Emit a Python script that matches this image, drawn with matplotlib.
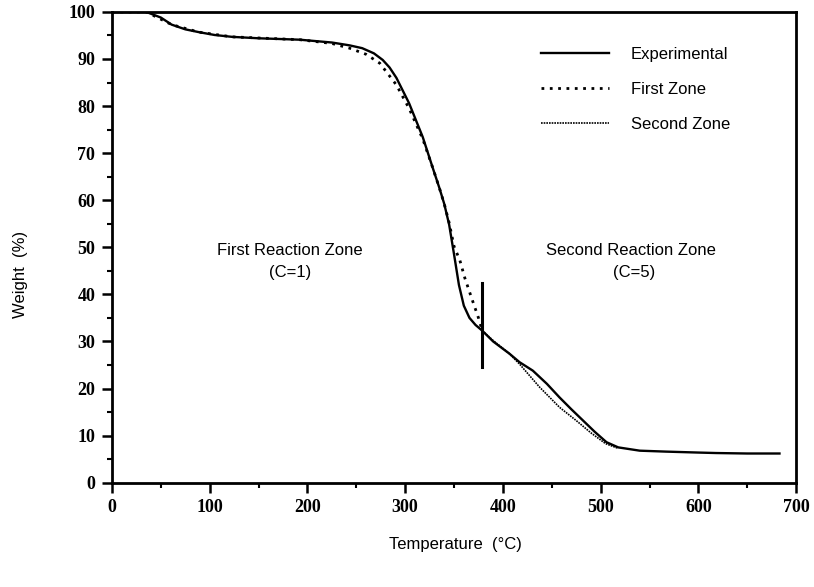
import matplotlib
matplotlib.use("Agg")
import matplotlib.pyplot as plt
import numpy as np

# experimental TGA curve
T_exp = [0, 20, 35, 50, 61, 75, 89, 105, 123, 150, 192, 225, 243, 256, 268, 277, 284, 291,
         304, 318, 328, 335, 340, 345, 350, 355, 360, 365.8, 372, 378.8, 390, 406.7, 417, 430.6,
         445, 458, 470, 482, 494, 506, 518, 540, 567, 600, 618, 650, 683]
W_exp = [100, 100, 100, 98.8, 97.3, 96.3, 95.7, 95.1, 94.7, 94.4, 94.1, 93.5, 92.9, 92.3, 91.2,
         89.8, 88.2, 86, 80.6, 73.4, 67, 62.6, 59.2, 54.8, 48.5, 42, 37.6, 35, 33.5, 32.3, 30.0, 27.4,
         25.6, 23.8, 21.0, 18.1, 15.6, 13.2, 10.8, 8.6, 7.5, 6.8, 6.6, 6.4, 6.3, 6.2, 6.2]

# first zone model (C=1)
T_z1 = [0, 35, 61, 89, 123, 192, 225, 243, 260, 274, 291, 304, 318, 328, 335, 340, 345, 350,
        356, 361, 368, 375, 378.8]
W_z1 = [100, 100, 97.3, 95.7, 94.7, 94.1, 93.3, 92.3, 91.0, 89.1, 84.5, 79.5, 73.0, 67, 62.6,
        59.2, 55.2, 50.2, 47.2, 43.5, 39.2, 35.0, 32.3]

# second zone model (C=5)
T_z2 = [378.8, 390, 406.7, 417, 437.5, 458, 475, 490, 505, 518]
W_z2 = [32.3, 30.2, 27.4, 25.2, 20.3, 16.0, 13.2, 10.6, 8.3, 7.3]

T_split = 379
W_split = [24.5, 42.4]

fig = plt.figure(figsize=(8.14, 5.87), dpi=100)
ax = fig.add_axes([0.1376, 0.1777, 0.8404, 0.802])

ax.plot(T_exp, W_exp, color="black", lw=1.7, label="Experimental")
ax.plot(T_z1, W_z1, color="black", lw=2.0, ls=(0, (1, 2)), label="First Zone")
ax.plot(T_z2, W_z2, color="black", lw=1.2, ls=(0, (1, 0.6)), label="Second Zone")
ax.plot([T_split, T_split], W_split, color="black", lw=2.2)

ax.set_xlim(0, 700)
ax.set_ylim(0, 100)
ax.set_xticks(np.arange(0, 701, 100))
ax.set_xticks(np.arange(50, 700, 100), minor=True)
ax.set_yticks(np.arange(0, 101, 10))
ax.set_yticks(np.arange(5, 100, 10), minor=True)

for s in ax.spines.values():
    s.set_linewidth(2.0)

ax.tick_params(which="major", direction="out", length=7, width=1.8, pad=5)
ax.tick_params(which="minor", direction="out", length=3.5, width=1.5)
tickfont = dict(family="Liberation Serif", weight="bold", size=13)
for lab in ax.get_xticklabels() + ax.get_yticklabels():
    lab.set_fontproperties(matplotlib.font_manager.FontProperties(**tickfont))

sans = "Liberation Sans"
fs = 12
fig.text(0.559, 0.073, "Temperature  (°C)", family=sans, fontsize=fs, ha="center", va="center")
fig.text(0.025, 0.532, "Weight  (%)", family=sans, fontsize=fs, ha="center", va="center",
         rotation=90)

ax.text(182, 49.4, "First Reaction Zone", family=sans, fontsize=fs, ha="center", va="center")
ax.text(182, 44.6, "(C=1)", family=sans, fontsize=fs, ha="center", va="center")
ax.text(531, 49.4, "Second Reaction Zone", family=sans, fontsize=fs, ha="center", va="center")
ax.text(534, 44.6, "(C=5)", family=sans, fontsize=fs, ha="center", va="center")

ax.legend(loc="upper left", bbox_to_anchor=(0.605, 0.958), frameon=False,
          prop=dict(family=sans, size=fs), handlelength=4.1, handletextpad=1.3,
          labelspacing=1.2)

plt.savefig("out.png", dpi=100)
